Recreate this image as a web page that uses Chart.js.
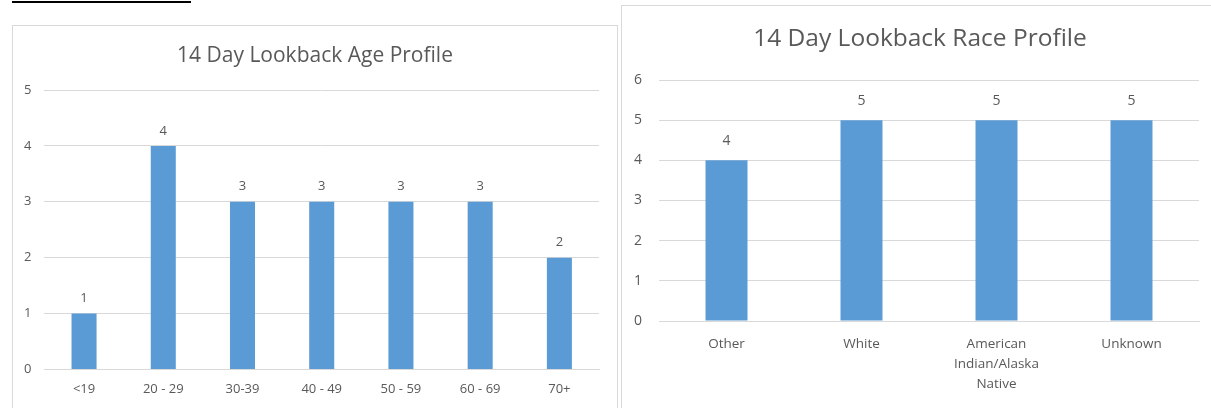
<!DOCTYPE html>
<html lang="en">
<head>
<meta charset="UTF-8">
<title>14 Day Lookback</title>
<script src="https://cdn.jsdelivr.net/npm/chart.js"></script>
<style>
  body { margin:0; background:#fff; width:1211px; height:408px; overflow:hidden; position:relative; font-family:"Open Sans", sans-serif; }
  .box { position:absolute; border:1px solid #d9d9d9; background:#fff; }
  .box canvas { position:absolute; left:0; top:0; }
  #hdr { position:absolute; left:12px; top:1px; width:179px; height:2px; background:#000; }
</style>
</head>
<body>
<div id="hdr"></div>
<div class="box" style="left:12px; top:25px; width:604px; height:400px;">
  <canvas id="ageChart" width="604" height="383"></canvas>
</div>
<div class="box" style="left:621px; top:5px; width:596px; height:420px;">
  <canvas id="raceChart" width="596" height="403"></canvas>
</div>
<script>
// data
const ageLabels = ['<19', '20 - 29', '30-39', '40 - 49', '50 - 59', '60 - 69', '70+'];
const ageValues = [1, 4, 3, 3, 3, 3, 2];
const raceLabels = ['Other', 'White', ['American', 'Indian/Alaska', 'Native'], 'Unknown'];
const raceValues = [4, 5, 5, 5];

const barColor = '#5b9bd5';
const textColor = '#595959';
const gridColor = '#d9d9d9';

// value above each bar
const valueLabels = {
  id: 'valueLabels',
  afterDatasetsDraw(chart, args, opts) {
    const c = chart.ctx;
    c.save();
    c.font = opts.size + 'px "Open Sans"';
    c.fillStyle = textColor;
    c.textAlign = 'center';
    c.textBaseline = 'middle';
    chart.getDatasetMeta(0).data.forEach((bar, i) => {
      c.fillText(chart.data.datasets[0].data[i], bar.x, bar.y - opts.offset);
    });
    c.restore();
  }
};

// title centred on the whole chart box (like the Excel chart area)
const boxTitle = {
  id: 'boxTitle',
  afterDraw(chart, args, opts) {
    const c = chart.ctx;
    c.save();
    c.font = opts.size + 'px "Open Sans"';
    c.fillStyle = textColor;
    c.textAlign = 'center';
    c.textBaseline = 'middle';
    c.fillText(opts.text, chart.width / 2, opts.y);
    c.restore();
  }
};

function makeChart(el, labels, values, cfg) {
  return new Chart(el, {
    type: 'bar',
    data: {
      labels: labels,
      datasets: [{ data: values, backgroundColor: barColor, categoryPercentage: 1, barPercentage: cfg.barPct }]
    },
    plugins: [valueLabels, boxTitle],
    options: {
      responsive: false,
      animation: false,
      devicePixelRatio: 1,
      layout: { padding: cfg.pad },
      plugins: {
        legend: { display: false },
        tooltip: { enabled: false },
        boxTitle: { text: cfg.title, size: cfg.titleSize, y: cfg.titleY },
        valueLabels: { size: cfg.labelSize, offset: cfg.labelOffset }
      },
      scales: {
        x: {
          grid: { display: false, drawTicks: false },
          border: { color: gridColor, width: 1 },
          ticks: { color: textColor, font: { family: 'Open Sans', size: cfg.xTickSize, lineHeight: cfg.xLine }, padding: cfg.xTickPad, maxRotation: 0, autoSkip: false }
        },
        y: {
          min: 0, max: cfg.max,
          grid: { color: gridColor, drawTicks: false },
          border: { display: false },
          ticks: { stepSize: 1, color: textColor, font: { family: 'Open Sans', size: cfg.yTickSize }, padding: cfg.yTickPad }
        }
      }
    }
  });
}

makeChart(document.getElementById('ageChart'), ageLabels, ageValues, {
  title: '14 Day Lookback Age Profile', titleSize: 21, titleY: 30.5,
  max: 5, barPct: 0.316, xTickSize: 13, xLine: 1.2, yTickSize: 13, labelSize: 13, labelOffset: 15,
  pad: { top: 64, left: -2, right: 18, bottom: 0 }, xTickPad: 12, yTickPad: 13
});

makeChart(document.getElementById('raceChart'), raceLabels, raceValues, {
  title: '14 Day Lookback Race Profile', titleSize: 24.5, titleY: 33.5,
  max: 6, barPct: 0.311, xTickSize: 13.5, xLine: '20px', yTickSize: 14, labelSize: 14, labelOffset: 19,
  pad: { top: 74, left: -5, right: 19, bottom: 2 }, xTickPad: 13, yTickPad: 17
});
</script>
</body>
</html>
